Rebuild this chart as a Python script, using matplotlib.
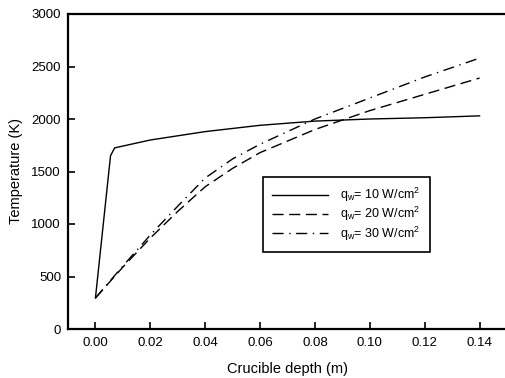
import matplotlib
matplotlib.use("Agg")
import matplotlib.pyplot as plt

plt.rcParams['font.family'] = ['Liberation Sans', 'DejaVu Sans']

depth_10 = [0.0, 0.0055, 0.007, 0.02, 0.04, 0.06, 0.08, 0.10, 0.12, 0.14]
temp_10 = [295, 1650, 1725, 1800, 1880, 1940, 1980, 2000, 2012, 2030]

depth_20 = [0.0, 0.01, 0.02, 0.03, 0.04, 0.05, 0.06, 0.08, 0.10, 0.12, 0.14]
temp_20 = [295, 590, 866, 1120, 1355, 1530, 1680, 1900, 2080, 2235, 2390]

depth_30 = [0.0, 0.01, 0.02, 0.03, 0.04, 0.05, 0.06, 0.08, 0.10, 0.12, 0.14]
temp_30 = [295, 600, 895, 1170, 1438, 1620, 1760, 2000, 2200, 2400, 2580]

labels = [r"q$_\mathregular{w}$= 10 W/cm$^\mathregular{2}$",
          r"q$_\mathregular{w}$= 20 W/cm$^\mathregular{2}$",
          r"q$_\mathregular{w}$= 30 W/cm$^\mathregular{2}$"]

fig = plt.figure(figsize=(5.05, 3.78), dpi=100)
ax = fig.add_axes([68/505, 49/378, 1 - 68/505 + 0.004, 315/378])

ax.plot(depth_10, temp_10, color='black', lw=1.0, linestyle='-', label=labels[0])
ax.plot(depth_20, temp_20, color='black', lw=1.0, linestyle=(0, (8, 4)), label=labels[1])
ax.plot(depth_30, temp_30, color='black', lw=1.0, linestyle=(0, (8, 4, 1, 4)), label=labels[2])

ax.set_xlim(-0.01, 0.15)
ax.set_ylim(0, 3000)
ax.set_xticks([0.0, 0.02, 0.04, 0.06, 0.08, 0.10, 0.12, 0.14])
ax.set_xticklabels(["0.00", "0.02", "0.04", "0.06", "0.08", "0.10", "0.12", "0.14"])
ax.set_yticks([0, 500, 1000, 1500, 2000, 2500, 3000])

ax.tick_params(direction='in', length=5, width=1.2, labelsize=9.5, top=False, right=False)
ax.tick_params(axis='y', pad=5)
ax.tick_params(axis='x', pad=6)
for s in ['left', 'bottom', 'top']:
    ax.spines[s].set_linewidth(1.6)
ax.spines['right'].set_visible(False)

ax.set_xlabel("Crucible depth (m)", fontsize=10.5, labelpad=9)
ax.set_ylabel("Temperature (K)", fontsize=10.5, labelpad=6)

leg = ax.legend(loc='upper left', bbox_to_anchor=(0.444, 0.4825), fontsize=9,
                frameon=True, fancybox=False, edgecolor='black', framealpha=1,
                borderaxespad=0,
                handlelength=4.5, borderpad=0.7, labelspacing=0.1, handletextpad=1.0)
leg.get_frame().set_linewidth(1.2)

fig.savefig("out.png", dpi=100)
